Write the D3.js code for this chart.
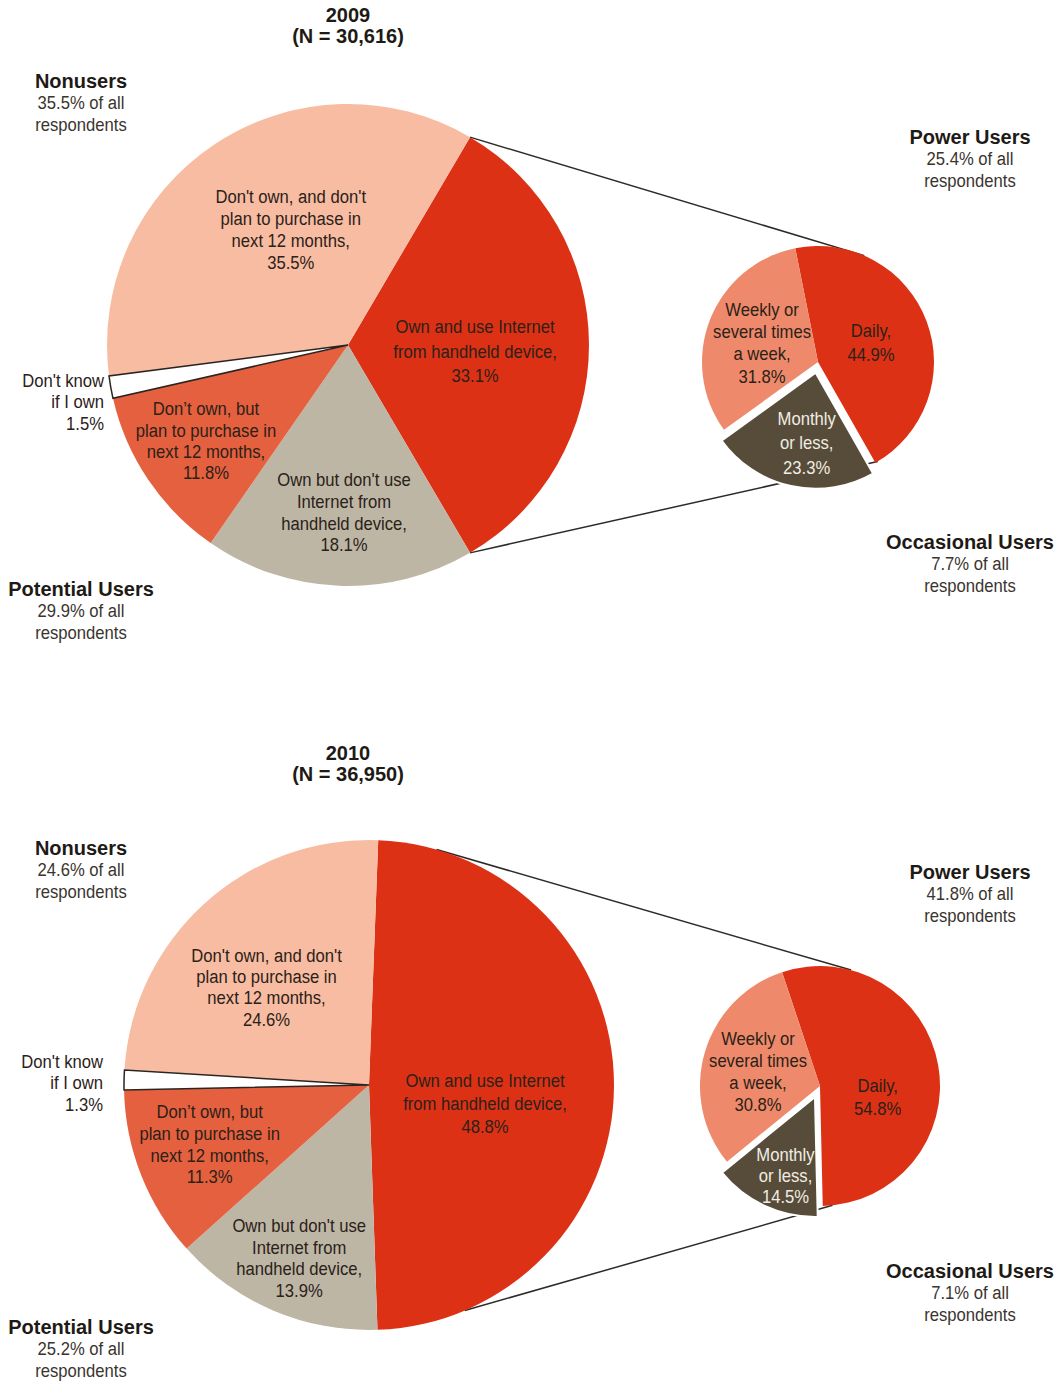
<!DOCTYPE html>
<meta charset="utf-8">
<body style="margin:0;background:#fff">
<script src="https://cdnjs.cloudflare.com/ajax/libs/d3/7.8.5/d3.min.js"></script>
<script>
// ---- data ----
var years = ["2009", "2010"];
var sampleSizes = ["30,616", "36,950"];

var ownershipLabels = [
  ["Own and use Internet", "from handheld device,"],
  ["Own but don't use", "Internet from", "handheld device,"],
  ["Don\u2019t own, but", "plan to purchase in", "next 12 months,"],
  ["Don't know", "if I own"],
  ["Don't own, and don't", "plan to purchase in", "next 12 months,"]
];
var ownership2009 = [33.1, 18.1, 11.8, 1.5, 35.5];
var ownership2010 = [48.8, 13.9, 11.3, 1.3, 24.6];

var usageLabels = [["Daily,"], ["Monthly", "or less,"], ["Weekly or", "several times", "a week,"]];
var usage2009 = [44.9, 23.3, 31.8];
var usage2010 = [54.8, 14.5, 30.8];

var groupNames = ["Nonusers", "Power Users", "Occasional Users", "Potential Users"];
var groupShares2009 = [35.5, 25.4, 7.7, 29.9];
var groupShares2010 = [24.6, 41.8, 7.1, 25.2];

// ---- styles ----
var ownColors = ["#dd3116", "#bdb6a5", "#e5603f", "#ffffff", "#f7bca2"];
var useColors = ["#dd3116", "#574c3a", "#ee8a6b"];
var sans = "'Liberation Sans', Arial, sans-serif";
var squeeze = 0.9;   // Arial squeezed to look like Arial Narrow
var ink = "#2b2118";

var width = 1056, height = 1383;

var svg = d3.select("body").append("svg")
    .attr("width", width)
    .attr("height", height);

function rad(a) { return a * Math.PI / 180; }
function polar(cx, cy, a, r) { return [cx + r * Math.sin(rad(a)), cy - r * Math.cos(rad(a))]; }

// multi line text centred on (x, y); regular text is squeezed horizontally
function block(g, x, y, lines, lh, opts) {
  opts = opts || {};
  var sx = opts.weight == "bold" ? 1 : squeeze;
  var t = g.append("text")
    .attr("transform", "translate(" + x + "," + (y - (lines.length - 1) * lh / 2) + ") scale(" + sx + ",1)")
    .attr("text-anchor", opts.anchor || "middle")
    .attr("dominant-baseline", "central")
    .style("font-family", sans)
    .style("font-weight", opts.weight || null)
    .style("font-size", (opts.size || 18.5) + "px")
    .style("fill", opts.color || ink);
  lines.forEach(function(l, i) {
    t.append("tspan")
      .attr("x", 0)
      .attr("y", i * lh)
      .text(l);
  });
  return t;
}

// group label: bold header + two squeezed lines
function groupLabel(g, x, y, lines) {
  block(g, x, y - 22, [lines[0]], 22, { weight: "bold", size: 20, color: "#1e1a16" });
  block(g, x, y + 11, lines.slice(1), 22, { color: "#3a342e" });
}

var charts = [
  { year: years[0], n: sampleSizes[0], own: ownership2009, use: usage2009, groups: groupShares2009,
    titleY: 25,
    big: { cx: 348, cy: 345, r: 241 },
    small: { cx: 818, cy: 362, r: 116, start: -11.3, explode: 11 },
    connect: [[30.4, 23.5], [149.6, 149]],
    ownLab: [[0.528, 2.9, 24.5], [0.695, -0.8, 21.7], [0.711, 0, 21.3], null, [0.533, 7, 22]],
    useLab: [[0.485, 0.8, 24], [0.61, -5, 24.5], [0.51, -2.5, 22.3]],
    groupPos: [[81, 103], [970, 159], [970, 564], [81, 611]],
    dkPos: [104, 402] },
  { year: years[1], n: sampleSizes[1], own: ownership2010, use: usage2010, groups: groupShares2010,
    titleY: 763,
    big: { cx: 369, cy: 1085, r: 245 },
    small: { cx: 820, cy: 1086, r: 120, start: -18.4, explode: 12 },
    connect: [[16, 15], [157, 174]],
    ownLab: [[0.48, 9.3, 23], [0.762, -1.1, 21.7], [0.694, 1.1, 21.7], null, [0.578, -4.2, 21.3]],
    useLab: [[0.49, 21, 23], [0.70, -4.2, 21], [0.53, -3.2, 22]],
    groupPos: [[81, 870], [970, 894], [970, 1293], [81, 1349]],
    dkPos: [103, 1083] }
];

charts.forEach(drawChart);

function drawChart(c) {
  var g = svg.append("g");
  var big = c.big, small = c.small;

  // title
  block(g, 348, c.titleY, [c.year, "(N = " + c.n + ")"], 21,
    { size: 20, weight: "bold", color: "#1e1a16" });

  // connector lines (behind the pies)
  c.connect.forEach(function(p) {
    var a = polar(big.cx, big.cy, p[0], big.r),
        b = polar(small.cx, small.cy, p[1], small.r);
    g.append("line")
      .attr("x1", a[0]).attr("y1", a[1])
      .attr("x2", b[0]).attr("y2", b[1])
      .attr("stroke", "#2e2a25")
      .attr("stroke-width", 1.5);
  });

  // big pie: the "own and use" slice is centred on 3 o'clock
  var start = 90 - c.own[0] * 1.8;
  var pie = d3.pie().sort(null)
    .startAngle(rad(start)).endAngle(rad(start + 360));
  var arcsBig = pie(c.own);
  var arcBig = d3.arc().innerRadius(0).outerRadius(big.r);

  var gb = g.append("g").attr("transform", "translate(" + big.cx + "," + big.cy + ")");
  gb.selectAll("path")
    .data(arcsBig)
    .enter()
    .append("path")
    .attr("d", arcBig)
    .attr("fill", function(d, i) { return ownColors[i]; })
    .attr("stroke", function(d, i) { return i == 3 ? "#2a2520" : "none"; })
    .attr("stroke-width", 1.5);
  // outline of the "don't know" sliver on top
  gb.select("path:nth-child(4)").raise();

  arcsBig.forEach(function(d, i) {
    var L = c.ownLab[i];
    if (!L) return;
    var mid = (d.startAngle + d.endAngle) / 2 * 180 / Math.PI + L[1];
    var p = polar(big.cx, big.cy, mid, big.r * L[0]);
    block(g, p[0], p[1], ownershipLabels[i].concat([c.own[i].toFixed(1) + "%"]), L[2]);
  });

  // "don't know" label outside, right aligned
  block(g, c.dkPos[0], c.dkPos[1], ownershipLabels[3].concat([c.own[3].toFixed(1) + "%"]), 21.5,
    { anchor: "end" });

  // small pie of the "own and use" share
  var pieS = d3.pie().sort(null)
    .startAngle(rad(small.start)).endAngle(rad(small.start + 360));
  var arcsS = pieS(c.use);
  var arcS = d3.arc().innerRadius(0).outerRadius(small.r);

  var gs = g.append("g").attr("transform", "translate(" + small.cx + "," + small.cy + ")");
  gs.selectAll("path")
    .data(arcsS)
    .enter()
    .append("path")
    .attr("d", arcS)
    .attr("transform", function(d, i) {
      if (i != 1) return null;
      var m = (d.startAngle + d.endAngle) / 2;
      return "translate(" + small.explode * Math.sin(m) + "," + (-small.explode * Math.cos(m)) + ")";
    })
    .attr("fill", function(d, i) { return useColors[i]; })
    .attr("stroke", function(d, i) { return i == 1 ? "#fff" : "none"; })
    .attr("stroke-width", 2);

  arcsS.forEach(function(d, i) {
    var L = c.useLab[i];
    var m = (d.startAngle + d.endAngle) / 2;
    var cx = small.cx, cy = small.cy;
    if (i == 1) {
      cx += small.explode * Math.sin(m);
      cy -= small.explode * Math.cos(m);
    }
    var p = polar(cx, cy, m * 180 / Math.PI + L[1], small.r * L[0]);
    block(g, p[0], p[1], usageLabels[i].concat([c.use[i].toFixed(1) + "%"]), L[2],
      { color: i == 1 ? "#f1ece3" : ink });
  });

  // group labels
  groupNames.forEach(function(name, i) {
    var p = c.groupPos[i];
    groupLabel(g, p[0], p[1], [name, c.groups[i].toFixed(1) + "% of all", "respondents"]);
  });
}
</script>
</body>
